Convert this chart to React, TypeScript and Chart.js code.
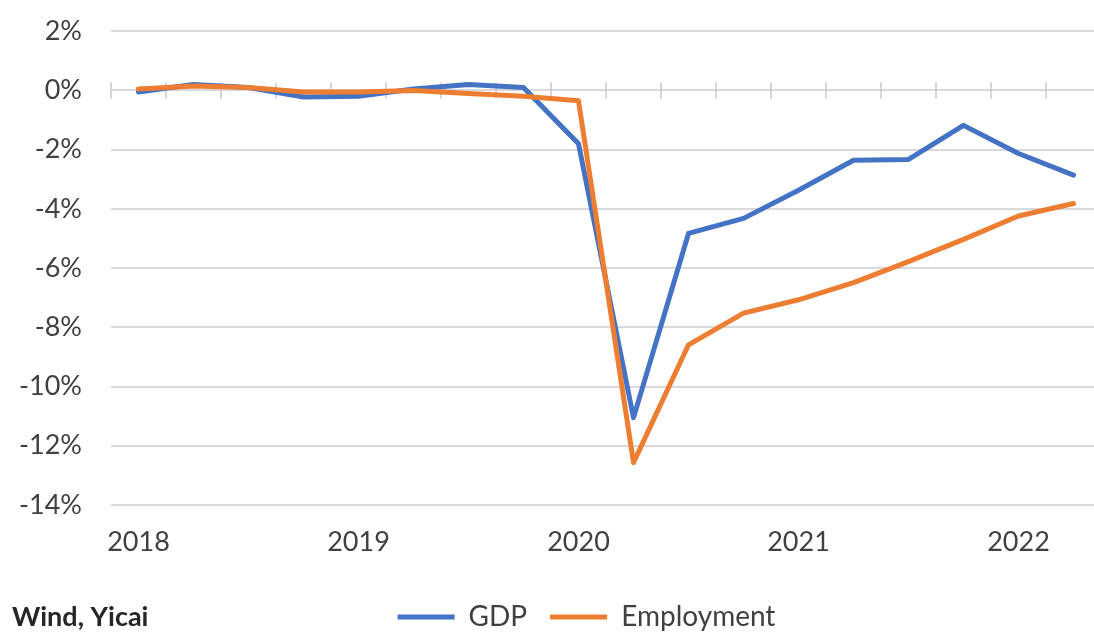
import { useEffect, useRef } from 'react';
import { Chart, registerables } from 'chart.js';

Chart.register(...registerables);

const quarters = [
  '2018Q1', '2018Q2', '2018Q3', '2018Q4',
  '2019Q1', '2019Q2', '2019Q3', '2019Q4',
  '2020Q1', '2020Q2', '2020Q3', '2020Q4',
  '2021Q1', '2021Q2', '2021Q3', '2021Q4',
  '2022Q1', '2022Q2',
];
const gdp = [-0.05, 0.2, 0.1, -0.22, -0.2, 0.05, 0.2, 0.1, -1.8, -11.05, -4.83, -4.32, -3.37, -2.36, -2.33, -1.18, -2.13, -2.86];
const employment = [0.05, 0.15, 0.1, -0.05, -0.05, 0.0, -0.1, -0.2, -0.35, -12.57, -8.59, -7.52, -7.07, -6.49, -5.78, -5.03, -4.24, -3.82];
const seriesNames = ['GDP', 'Employment'];
const yMin = -14;
const yMax = 2;
const yStep = 2;
const sourceNote = 'Wind, Yicai';

const FONT = 'Lato';
const TEXT = '#404040';
const FS = 27;
const W = 1162;
const H = 655;
const SHIFT = 14;

const extras = {
  id: 'extras',
  beforeDatasetsDraw(chart: any) {
    const { ctx } = chart;
    const xs = chart.scales.x;
    const ys = chart.scales.y;
    const y0 = ys.getPixelForValue(0);
    const n = quarters.length;
    const step = n > 1 ? xs.getPixelForValue(1) - xs.getPixelForValue(0) : 0;
    ctx.save();
    ctx.strokeStyle = '#c8c8c8';
    ctx.lineWidth = 1.5;
    for (let i = 0; i <= n; i++) {
      const x = xs.getPixelForValue(0) - step / 2 + i * step;
      ctx.beginPath();
      ctx.moveTo(x, y0 - 8);
      ctx.lineTo(x, y0 + 8);
      ctx.stroke();
    }
    ctx.restore();
  },
  afterDraw(chart: any) {
    const { ctx } = chart;
    ctx.save();
    ctx.font = `bold ${FS}px ${FONT}`;
    ctx.fillStyle = '#262626';
    ctx.textAlign = 'left';
    ctx.textBaseline = 'alphabetic';
    ctx.fillText(sourceNote, 12, 626 + SHIFT);
    ctx.restore();
  },
};

export default function App() {
  const ref = useRef<HTMLCanvasElement>(null);
  useEffect(() => {
    if (!ref.current) return;
    const chart = new Chart(ref.current, {
      type: 'line',
      data: {
        labels: quarters,
        datasets: [
          {
            label: seriesNames[0],
            data: gdp,
            borderColor: '#4472C4',
            backgroundColor: '#4472C4',
            borderWidth: 5,
            pointRadius: 0,
            tension: 0,
            borderJoinStyle: 'round',
            borderCapStyle: 'round',
            order: 1,
          },
          {
            label: seriesNames[1],
            data: employment,
            borderColor: '#ED7D31',
            backgroundColor: '#ED7D31',
            borderWidth: 5,
            pointRadius: 0,
            tension: 0,
            borderJoinStyle: 'round',
            borderCapStyle: 'round',
            order: 0,
          },
        ],
      },
      options: {
        responsive: false,
        animation: false,
        devicePixelRatio: 1,
        layout: { padding: { left: 11, right: 0, top: 0, bottom: 0 } },
        plugins: {
          tooltip: { enabled: false },
          legend: {
            position: 'bottom',
            labels: {
              boxWidth: 57,
              boxHeight: 5,
              padding: 23,
              color: TEXT,
              font: { family: FONT, size: 28 },
              sort: (a: any, b: any) => a.datasetIndex - b.datasetIndex,
              generateLabels: (c: any) =>
                (Chart.defaults.plugins.legend.labels.generateLabels as any)(c).map((l: any) => ({ ...l, lineWidth: 0 })),
            },
          },
        },
        scales: {
          x: {
            type: 'category',
            offset: true,
            grid: { display: false, drawTicks: false },
            border: { display: false },
            afterFit: (s: any) => { s.height = 75; },
            ticks: {
              autoSkip: false,
              maxRotation: 0,
              minRotation: 0,
              padding: 21,
              color: TEXT,
              font: { family: FONT, size: FS },
              callback: (_v: any, i: number) => (quarters[i].endsWith('Q1') ? quarters[i].slice(0, 4) : ''),
            },
          },
          y: {
            min: yMin,
            max: yMax,
            grid: { color: '#d9d9d9', lineWidth: 2, drawTicks: false },
            border: { display: false },
            afterFit: (s: any) => { s.width = 100; },
            ticks: {
              stepSize: yStep,
              padding: 29,
              color: TEXT,
              font: { family: FONT, size: FS },
              callback: (v: any) => `${v}%`,
            },
          },
          yRight: {
            type: 'linear',
            position: 'right',
            display: true,
            grid: { drawOnChartArea: false, drawTicks: false },
            border: { display: false },
            ticks: { display: false },
            afterFit: (s: any) => { s.width = 61; },
          },
        },
      },
      plugins: [extras],
    });
    return () => chart.destroy();
  }, []);
  return (
    <div style={{ position: 'fixed', left: 0, top: 0, width: 1094, height: 632, overflow: 'hidden', background: '#fff' }}>
      <canvas ref={ref} width={W} height={H} style={{ position: 'absolute', left: 0, top: -SHIFT, width: W, height: H }} />
    </div>
  );
}
